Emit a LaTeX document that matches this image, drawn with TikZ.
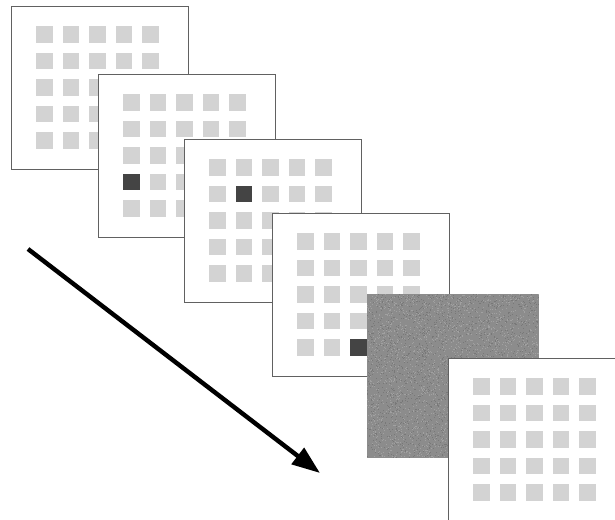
\documentclass[tikz,border=0pt]{standalone}
\usepackage{tikz,xcolor}
\usetikzlibrary{arrows.meta, calc}
\definecolor{cellgrey}{RGB}{211,211,211}
\definecolor{celldark}{RGB}{68,68,68}
\definecolor{noisegrey}{RGB}{140,140,140}
\tikzset{
	panel/.style={draw=black!62, line width=1pt, fill=white, inner sep=0pt, anchor=north west,
		minimum width=5.31cm, minimum height=4.89cm},
	cell/.style={fill=cellgrey},
	darkcell/.style={fill=celldark},
	timearrow/.style={line width=3.8pt, -{Triangle[length=24pt, width=17pt]}}
}
% one display: frame plus 5x5 grid of grey squares
\def\stimpanel#1(#2,#3){
	\node[panel] (#1) at (#2,#3) {};
	\foreach \c in {0,...,4}
		\foreach \r in {0,...,4}
			\fill[cell] ($(#1.north west)+(25+26.6*\c,20+26.6*\r)$) rectangle ++(16.5,16.5);
}
\def\target#1(#2,#3){\fill[darkcell] ($(#1.north west)+(25+26.6*#2,20+26.6*#3)$) rectangle ++(16.5,16.5);}

\begin{document}
\begin{tikzpicture}[x=0.03cm, y=-0.03cm]

	\clip (0,0) rectangle (615,519);

	% the displays
	\stimpanel{f1}(11,6)
	\stimpanel{f2}(98,74)
	\target{f2}(0,3)
	\stimpanel{f3}(184,139)
	\target{f3}(1,1)
	\stimpanel{f4}(272,213)
	\target{f4}(2,4)

	% mask
	\node[fill=noisegrey, inner sep=0pt, anchor=north west, minimum width=5.16cm, minimum height=4.92cm] (noise) at (367,294) {};
	\pgfmathsetseed{7}
	\foreach \i in {1,...,2200}
		\fill[black!53] ({367+171*rnd},{294+163*rnd}) rectangle ++(1,1);
	\foreach \i in {1,...,2200}
		\fill[black!37] ({367+171*rnd},{294+163*rnd}) rectangle ++(1,1);

	\stimpanel{f6}(448,358)

	% time
	\coordinate (tstart) at (28,249);
	\coordinate (tend) at (320,473);
	\draw[timearrow] (tstart) -- (tend);

\end{tikzpicture}
\end{document}
